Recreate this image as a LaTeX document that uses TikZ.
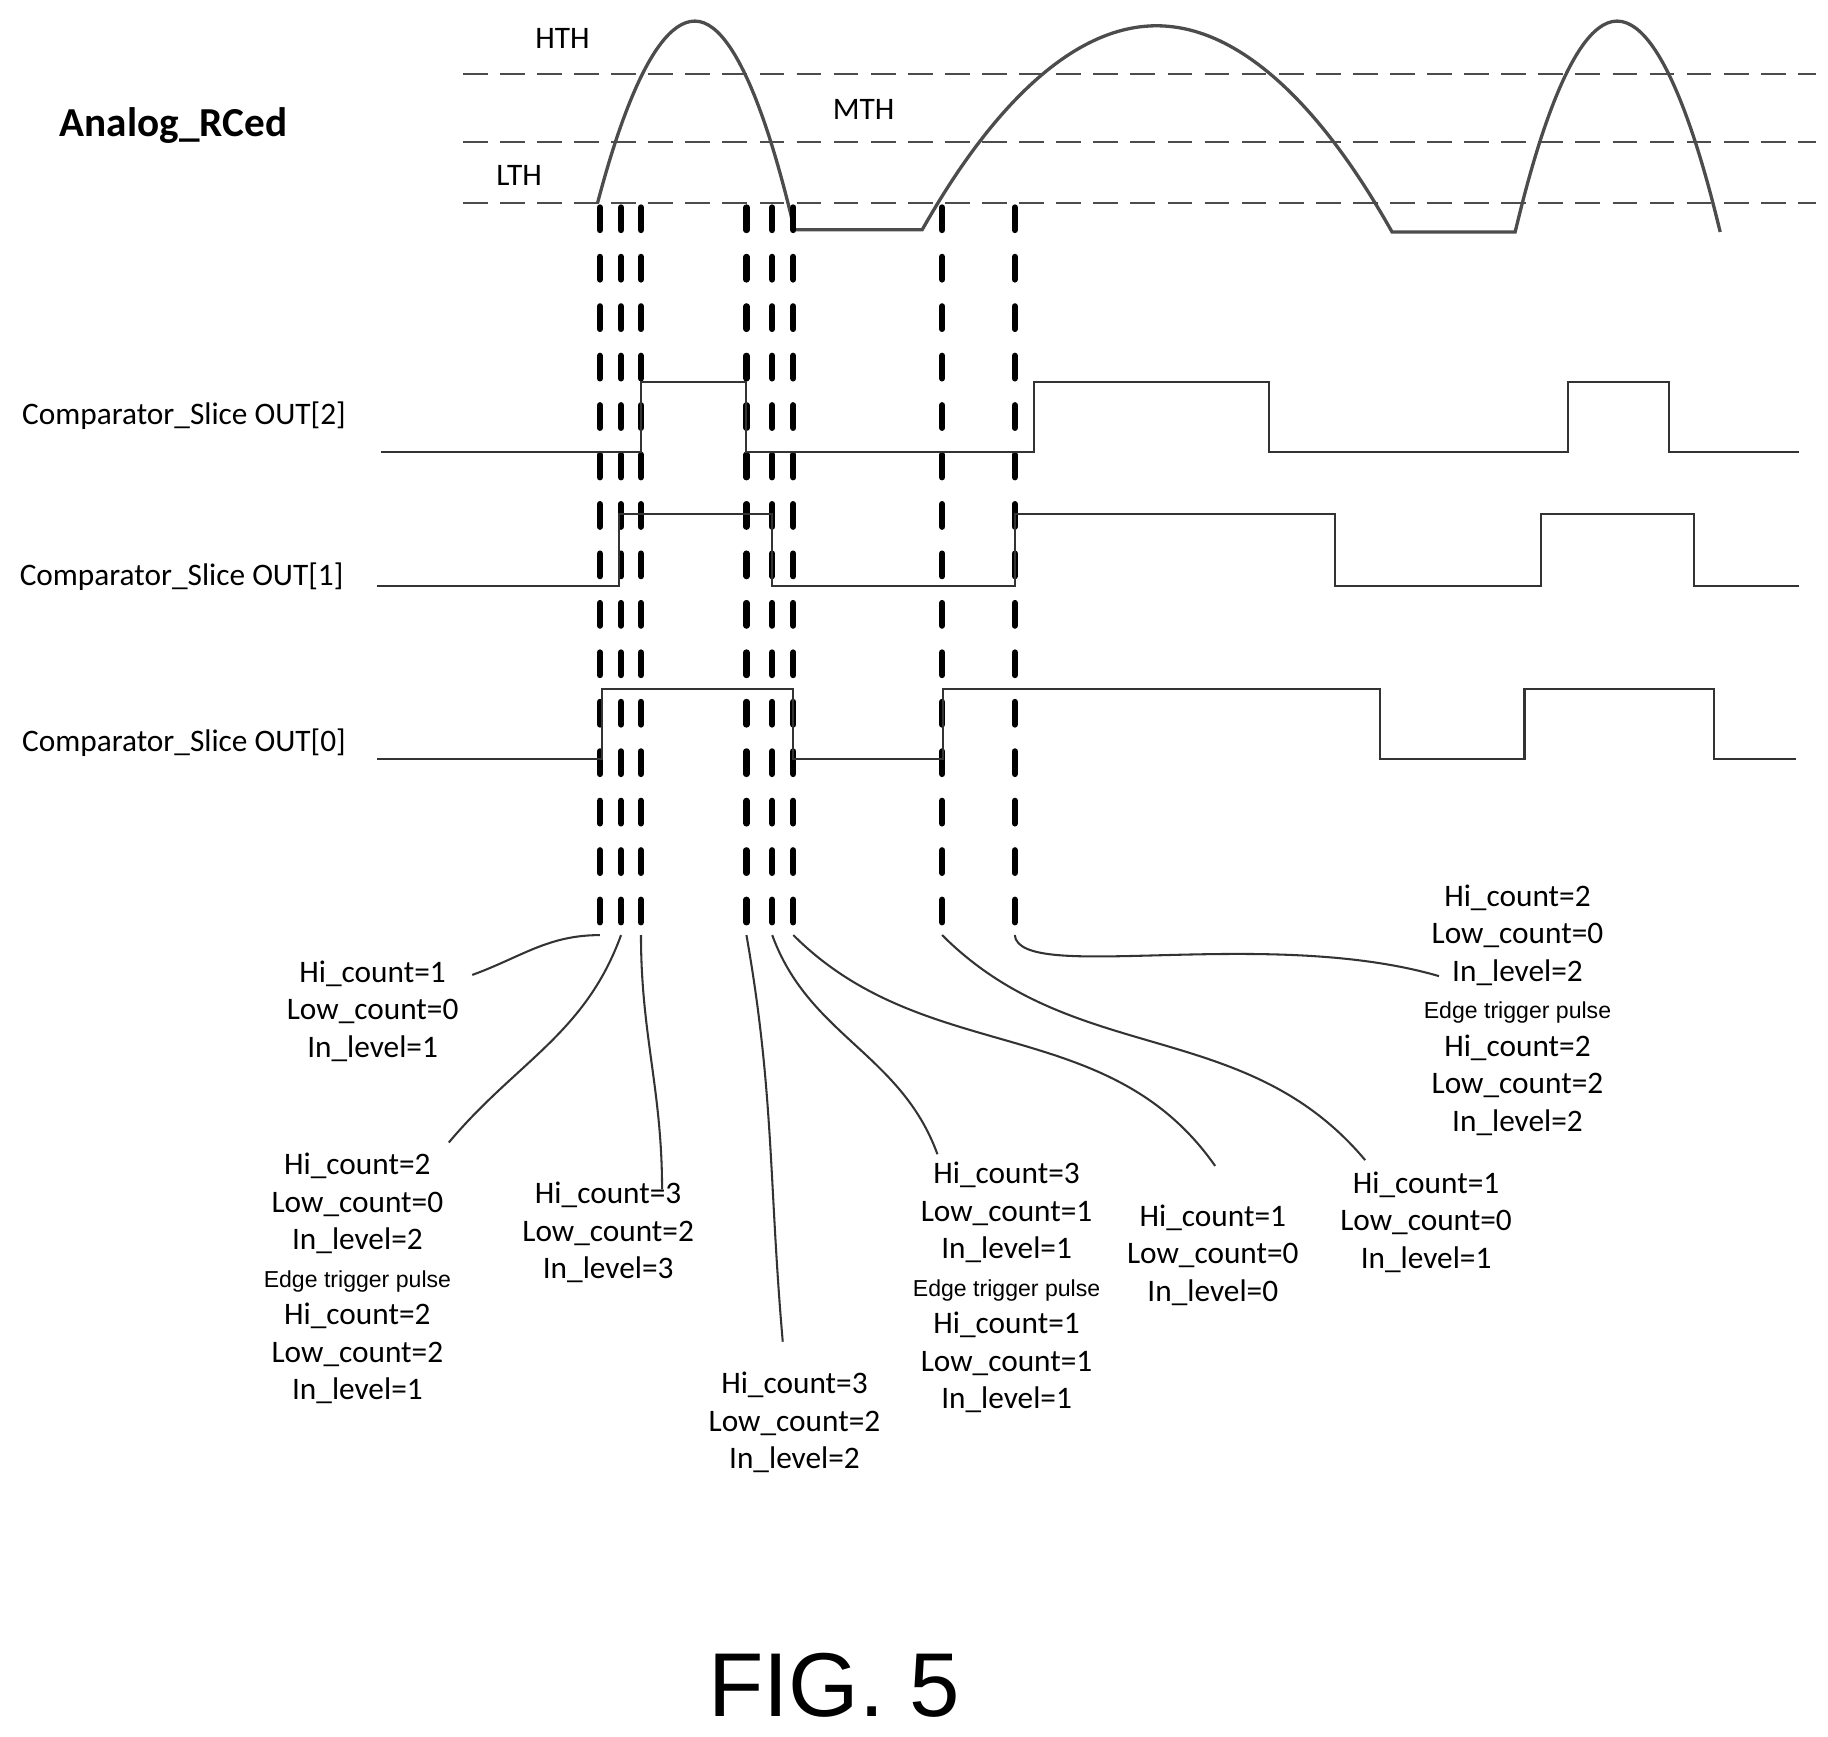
\documentclass[tikz,border=0pt]{standalone}
\usepackage{fontspec}
\setmainfont{Carlito}
\newfontfamily\arialf{Liberation Sans}
\usetikzlibrary{positioning}
\tikzset{
  thr/.style={black!70, dash pattern=on 6pt off 3pt, line width=0.4pt},
  col/.style={line width=1.5pt, line cap=round, dash pattern=on 5.5pt off 6.5pt},
  sig/.style={black!80, line width=0.5pt},
  wave/.style={black!70, line width=0.8pt},
  lead/.style={black!80, line width=0.5pt},
  info/.style={align=center, inner sep=0pt, font=\fontsize{7.6}{9.1}\selectfont}
}
\newcommand{\etpline}{{\arialf\fontsize{5.6}{9.1}\selectfont Edge trigger pulse}}
\begin{document}
\begin{tikzpicture}[x=0.01cm,y=-0.01cm]
\useasboundingbox (0,0) rectangle (1560,1482);
% thresholds
\foreach \yy in {63,121,173}
  \draw[thr] (395,\yy) -- (1550,\yy);
\node[font=\fontsize{7.6}{9}\selectfont] (hth) at (480,33) {HTH};
\node[font=\fontsize{7.6}{9}\selectfont] (mth) at (737,93) {MTH};
\node[font=\fontsize{7.6}{9}\selectfont] (lth) at (443,150) {LTH};
\node[font=\bfseries\fontsize{10}{12}\selectfont] (title) at (148,107) {Analog\_RCed};
% analog waveform
\draw[wave] (510,173) parabola bend (593,18) (678,196) -- (787,196)
  parabola bend (987,22) (1188,198) -- (1293,198)
  parabola bend (1380,18) (1468,198);
% sampling columns
\foreach \n/\cx in {a/512,b/530,c/547,d/637,e/659,f/677,g/804,h/866}{
  \draw[col] (\cx,177) -- (\cx,798);
  \coordinate (\n) at (\cx,798);
}
% comparator outputs
\node[font=\fontsize{7.6}{9}\selectfont] (o2) at (157,355) {Comparator\_Slice OUT[2]};
\node[font=\fontsize{7.6}{9}\selectfont] (o1) at (155,492) {Comparator\_Slice OUT[1]};
\node[font=\fontsize{7.6}{9}\selectfont] (o0) at (157,634) {Comparator\_Slice OUT[0]};
\draw[sig] (325,386) -- (547,386) -- (547,326) -- (637,326) -- (637,386) -- (882,386)
  -- (882,326) -- (1083,326) -- (1083,386) -- (1338,386) -- (1338,326) -- (1424,326)
  -- (1424,386) -- (1535,386);
\draw[sig] (322,500) -- (528,500) -- (528,439) -- (659,439) -- (659,500) -- (866,500)
  -- (866,439) -- (1139,439) -- (1139,500) -- (1315,500) -- (1315,439) -- (1446,439)
  -- (1446,500) -- (1535,500);
\draw[sig] (322,648) -- (514,648) -- (514,588) -- (677,588) -- (677,648) -- (805,648)
  -- (805,588) -- (1178,588) -- (1178,648) -- (1301,648) -- (1301,588) -- (1463,588)
  -- (1463,648) -- (1533,648);
% state labels
\node[info] (s1) at (318,863) {Hi\_count=1\\Low\_count=0\\In\_level=1};
\node[info] (s2) at (305,1091) {Hi\_count=2\\Low\_count=0\\In\_level=2\\\etpline\\Hi\_count=2\\Low\_count=2\\In\_level=1};
\node[info] (s3) at (519,1052) {Hi\_count=3\\Low\_count=2\\In\_level=3};
\node[info] (s4) at (678,1214) {Hi\_count=3\\Low\_count=2\\In\_level=2};
\node[info] (s5) at (859,1099) {Hi\_count=3\\Low\_count=1\\In\_level=1\\\etpline\\Hi\_count=1\\Low\_count=1\\In\_level=1};
\node[info] (s6) at (1035,1071) {Hi\_count=1\\Low\_count=0\\In\_level=0};
\node[info] (s7) at (1217,1043) {Hi\_count=1\\Low\_count=0\\In\_level=1};
\node[info] (s8) at (1295,862) {Hi\_count=2\\Low\_count=0\\In\_level=2\\\etpline\\Hi\_count=2\\Low\_count=2\\In\_level=2};
% leaders
\coordinate (t1) at (403,832);
\coordinate (t2) at (383,975);
\coordinate (t3) at (565,1015);
\coordinate (t4) at (668,1145);
\coordinate (t5) at (800,985);
\coordinate (t6) at (1037,995);
\coordinate (t7) at (1165,990);
\coordinate (t8) at (1228,833);
\draw[lead] (a) to[out=180,in=20] (t1);
\draw[lead] (b) to[out=-110,in=50] (t2);
\draw[lead] (c) to[out=-90,in=90] (t3);
\draw[lead] (d) to[out=-80,in=95] (t4);
\draw[lead] (e) to[out=-70,in=110] (t5);
\draw[lead] (f) to[out=-45,in=125] (t6);
\draw[lead] (g) to[out=-45,in=130] (t7);
\draw[lead] (h) .. controls (870,840) and (1080,790) .. (t8);
\node[font=\arialf\fontsize{22}{26}\selectfont] (fig) at (712,1438) {FIG. 5};
\end{tikzpicture}
\end{document}
